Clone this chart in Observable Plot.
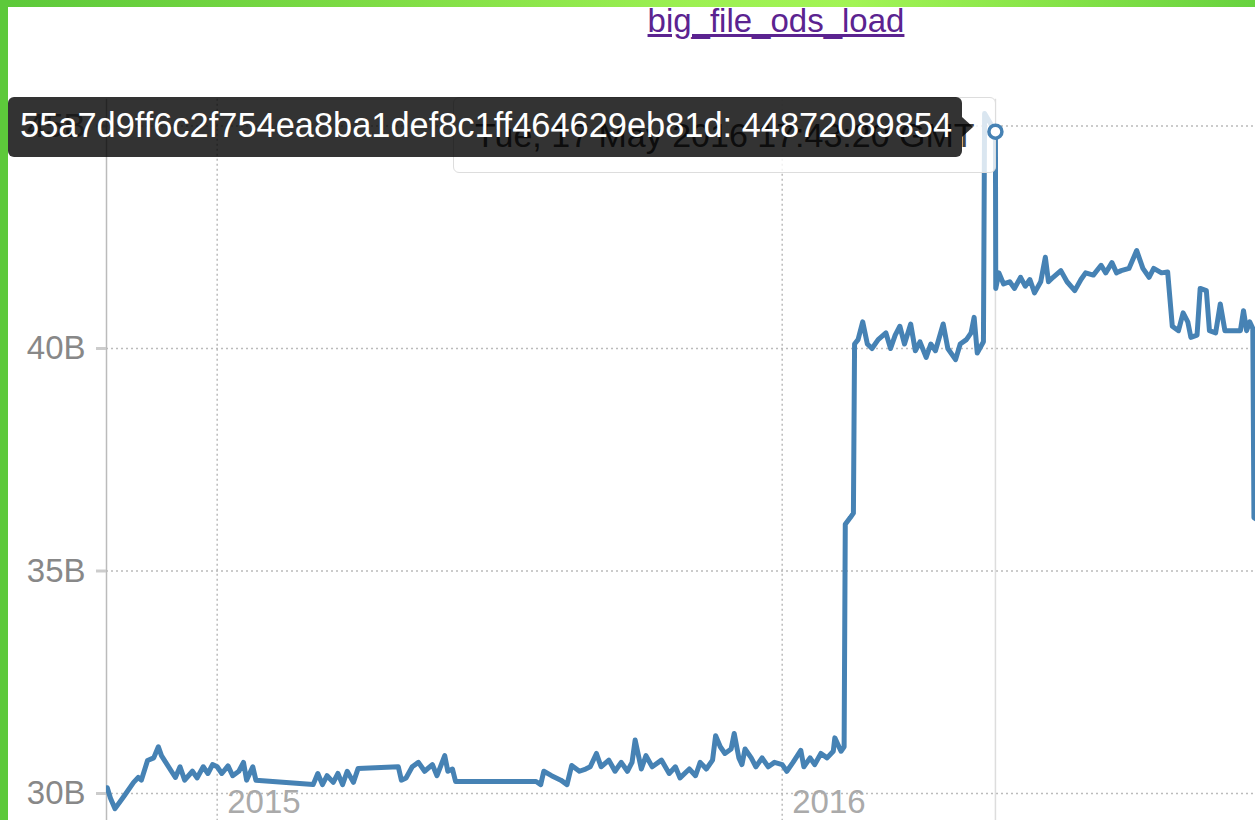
<!DOCTYPE html>
<html>
<head>
<meta charset="utf-8">
<script src="https://cdn.jsdelivr.net/npm/d3@7"></script>
<script src="https://cdn.jsdelivr.net/npm/@observablehq/plot@0.6"></script>
<style>
  html, body { margin: 0; padding: 0; width: 1255px; height: 820px; overflow: hidden; background: #fff; }
  body { position: relative; font-family: "Liberation Sans", Arial, sans-serif; }
  #chart, #marker { position: absolute; left: 0; top: 0; }
  #chart { z-index: 1; }
  #hoverbox { position: absolute; z-index: 2; left: 453px; top: 97px; width: 543px; height: 76px;
    background: rgba(255,255,255,0.8); border: 1px solid #ddd; border-radius: 6px; box-sizing: border-box; }
  #hoverbox span { position: absolute; left: 21px; top: 18px; font-size: 34px; color: #444; white-space: nowrap; }
  #marker { z-index: 3; pointer-events: none; }
  #tip { position: absolute; z-index: 4; left: 8px; top: 97px; width: 954px; height: 60px;
    background: rgba(0,0,0,0.8); border-radius: 6px; box-sizing: border-box; }
  #tip span { position: absolute; left: 12px; top: 9px; font-size: 34.4px; color: #fff; white-space: nowrap; }
  #tip::after { content: ""; position: absolute; left: 954px; top: 20px; border-style: solid;
    border-width: 10px 0 10px 11px; border-color: transparent transparent transparent rgba(0,0,0,0.8); }
  #title { position: absolute; z-index: 5; left: 0; width: 1552px; top: 2px; text-align: center;
    font-size: 33px; color: #5b2390; text-decoration: underline; white-space: nowrap; }
  #topbar { position: absolute; z-index: 6; left: 0; top: 0; width: 1255px; height: 7px;
    background: linear-gradient(90deg, #5cc93a 0%, #7edc45 30%, #9cf052 55%, #a2f455 68%, #84e247 85%, #67d23f 100%); }
  #leftbar { position: absolute; z-index: 6; left: 0; top: 0; width: 8px; height: 820px; background: #5dc93b; }
</style>
</head>
<body>
<div id="topbar"></div>
<div id="leftbar"></div>
<div id="title"></div>
<div id="chart"></div>
<div id="hoverbox"><span id="hovertime"></span></div>
<div id="marker"></div>
<div id="tip"><span id="tiptext"></span></div>
<script>
// ---- data ----
const chartTitle = "big_file_ods_load";
const seriesName = "55a7d9ff6c2f754ea8ba1def8c1ff464629eb81d";
const hoverDate = "2016-05-17T17:43:20Z";
const hoverValue = 44872089854;
const yTicks = [30, 35, 40, 45];          // billions
const xTickDates = ["2015-01-01", "2016-01-01"];
const xTickLabels = ["2015", "2016"];
const dates = [
  "2014-10-22","2014-10-24","2014-10-27","2014-11-02","2014-11-08","2014-11-11","2014-11-13","2014-11-17",
  "2014-11-21","2014-11-24","2014-11-26","2014-12-05","2014-12-08","2014-12-11","2014-12-16","2014-12-19",
  "2014-12-23","2014-12-26","2014-12-29","2015-01-01","2015-01-04","2015-01-08","2015-01-11","2015-01-15",
  "2015-01-18","2015-01-20","2015-01-24","2015-01-26","2015-03-04","2015-03-07","2015-03-10","2015-03-13",
  "2015-03-17","2015-03-20","2015-03-23","2015-03-26","2015-03-30","2015-04-02","2015-04-28","2015-04-30",
  "2015-05-03","2015-05-07","2015-05-11","2015-05-15","2015-05-20","2015-05-23","2015-05-28","2015-05-30",
  "2015-06-02","2015-06-04","2015-07-26","2015-07-29","2015-07-31","2015-08-05","2015-08-11","2015-08-15",
  "2015-08-18","2015-08-23","2015-08-27","2015-08-30","2015-09-03","2015-09-06","2015-09-11","2015-09-15",
  "2015-09-19","2015-09-23","2015-09-26","2015-09-28","2015-10-02","2015-10-05","2015-10-09","2015-10-15",
  "2015-10-20","2015-10-24","2015-10-27","2015-11-02","2015-11-06","2015-11-09","2015-11-13","2015-11-17",
  "2015-11-19","2015-11-22","2015-11-25","2015-11-29","2015-12-01","2015-12-04","2015-12-06","2015-12-08",
  "2015-12-12","2015-12-15","2015-12-19","2015-12-23","2015-12-27","2016-01-01","2016-01-04","2016-01-08",
  "2016-01-13","2016-01-15","2016-01-19","2016-01-22","2016-01-26","2016-01-30","2016-02-03","2016-02-04",
  "2016-02-08","2016-02-10","2016-02-10T18:00Z","2016-02-14","2016-02-16","2016-02-16T18:00Z","2016-02-19","2016-02-22",
  "2016-02-25","2016-02-28","2016-03-03","2016-03-08","2016-03-11","2016-03-14","2016-03-17","2016-03-20",
  "2016-03-24","2016-03-27","2016-03-30","2016-04-03","2016-04-06","2016-04-09","2016-04-14","2016-04-17",
  "2016-04-22","2016-04-25","2016-04-29","2016-05-02","2016-05-04","2016-05-06","2016-05-10","2016-05-10T18:00Z",
  "2016-05-17T17:43:20Z","2016-05-17T23:00Z","2016-05-20","2016-05-23","2016-05-27","2016-05-30","2016-06-03","2016-06-06",
  "2016-06-09","2016-06-12","2016-06-16","2016-06-19","2016-06-21","2016-06-24","2016-06-29","2016-07-03",
  "2016-07-08","2016-07-12","2016-07-15","2016-07-20","2016-07-25","2016-07-28","2016-08-01","2016-08-04",
  "2016-08-07","2016-08-12","2016-08-17","2016-08-21","2016-08-25","2016-08-28","2016-09-02","2016-09-06",
  "2016-09-09","2016-09-13","2016-09-16","2016-09-19","2016-09-21","2016-09-25","2016-09-27","2016-10-01",
  "2016-10-03","2016-10-07","2016-10-10","2016-10-13","2016-10-18","2016-10-23","2016-10-25","2016-10-27",
  "2016-10-29","2016-10-31","2016-10-31T18:00Z","2016-11-05"
];
const values = [  // billions
  30.13, 29.9, 29.66, 29.95, 30.25, 30.36, 30.3, 30.74,
  30.8, 31.05, 30.85, 30.36, 30.6, 30.3, 30.5, 30.35,
  30.6, 30.45, 30.65, 30.6, 30.45, 30.62, 30.4, 30.5,
  30.7, 30.3, 30.6, 30.3, 30.2, 30.45, 30.2, 30.4,
  30.25, 30.45, 30.2, 30.5, 30.25, 30.56, 30.6, 30.3,
  30.35, 30.6, 30.7, 30.5, 30.65, 30.4, 30.85, 30.5,
  30.55, 30.27, 30.27, 30.2, 30.5, 30.4, 30.3, 30.2,
  30.63, 30.5, 30.55, 30.6, 30.9, 30.6, 30.75, 30.5,
  30.7, 30.5, 30.7, 31.2, 30.55, 30.85, 30.6, 30.75,
  30.45, 30.6, 30.35, 30.55, 30.4, 30.7, 30.55, 30.75,
  31.3, 31.05, 30.9, 31.0, 31.35, 30.8, 30.65, 31.0,
  30.8, 30.6, 30.8, 30.6, 30.7, 30.65, 30.5, 30.7,
  30.97, 30.6, 30.8, 30.65, 30.9, 30.8, 30.95, 31.25,
  30.95, 31.05, 36.05, 36.2, 36.3, 40.1, 40.2, 40.6,
  40.1, 40.0, 40.2, 40.35, 40.0, 40.3, 40.5, 40.1,
  40.55, 39.95, 40.15, 39.8, 40.1, 39.95, 40.55, 40.0,
  39.75, 40.1, 40.2, 40.35, 40.7, 39.9, 40.15, 45.28,
  44.872089854, 41.35, 41.7, 41.45, 41.5, 41.35, 41.6, 41.4,
  41.55, 41.25, 41.5, 42.05, 41.5, 41.6, 41.75, 41.5,
  41.3, 41.55, 41.7, 41.65, 41.87, 41.7, 41.93, 41.7,
  41.75, 41.8, 42.2, 41.8, 41.6, 41.8, 41.7, 41.72,
  40.5, 40.4, 40.8, 40.6, 40.25, 40.3, 41.35, 41.3,
  40.4, 40.35, 41.0, 40.4, 40.4, 40.4, 40.85, 40.4,
  40.6, 40.45, 36.2, 36.1
];

const data = dates.map((d, i) => ({date: new Date(d.length === 10 ? d + "T00:00:00Z" : d), value: values[i]}));
const xDomain = [new Date("2014-10-21T12:00:00Z"), new Date("2016-11-01T18:00:00Z")];
const hover = {date: new Date(hoverDate), value: hoverValue / 1e9};
const gridTop = 45.6;
const xTicks = xTickDates.map(d => new Date(d + "T00:00:00Z"));

const common = {
  width: 1255, height: 840,
  marginLeft: 106, marginRight: 0, marginTop: 81, marginBottom: 2.5,
  x: {type: "utc", domain: xDomain, axis: null},
  y: {domain: [29, 46], axis: null},
  style: {background: "transparent", fontFamily: "'Liberation Sans', Arial, sans-serif", overflow: "visible"}
};

const chart = Plot.plot({
  ...common,
  marks: [
    Plot.ruleY(yTicks, {stroke: "#bbb", strokeWidth: 1.5, strokeDasharray: "2,3"}),
    Plot.ruleX(xTicks, {y1: gridTop, y2: 29, stroke: "#bbb", strokeWidth: 1.5, strokeDasharray: "2,3"}),
    Plot.ruleX([hover.date], {y1: gridTop, y2: 29, stroke: "#ddd", strokeWidth: 1.5}),
    Plot.ruleX([xDomain[0]], {y1: gridTop, y2: 29, stroke: "#bbb", strokeWidth: 1.5}),
    Plot.axisY(yTicks, {tickSize: 10, text: null, label: null, stroke: "#ccc", strokeWidth: 3, strokeOpacity: 1}),
    Plot.text(yTicks, {x: xDomain[0], y: d => d, text: d => d + "B", textAnchor: "end", dx: -21,
      fontSize: 33, fill: "#888"}),
    Plot.text(xTicks, {x: d => d, y: 29.8, text: (d, i) => xTickLabels[i],
      textAnchor: "start", dx: 10, fontSize: 33, fill: "#aaa"}),
    Plot.line(data, {x: "date", y: "value", stroke: "steelblue", strokeWidth: 5,
      strokeLinejoin: "round", strokeLinecap: "round", clip: true})
  ]
});
document.getElementById("chart").appendChild(chart);

const marker = Plot.plot({
  ...common,
  marks: [
    Plot.dot([hover], {x: "date", y: "value", r: 6.5, fill: "white", stroke: "steelblue", strokeWidth: 3.5})
  ]
});
document.getElementById("marker").appendChild(marker);

document.getElementById("title").textContent = chartTitle;
document.getElementById("tiptext").textContent = seriesName + ": " + hoverValue;
document.getElementById("hovertime").textContent = hover.date.toUTCString();
</script>
</body>
</html>
